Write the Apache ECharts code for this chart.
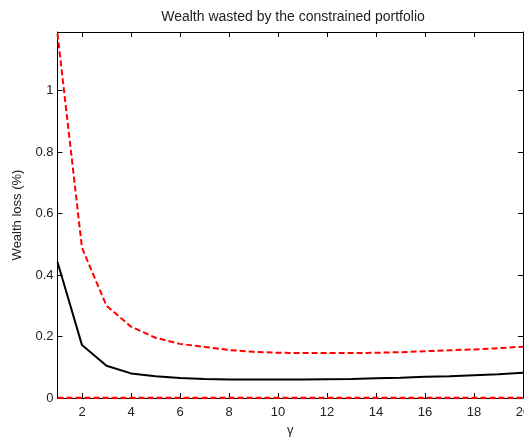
<!DOCTYPE html>
<html>
<head>
<meta charset="utf-8">
<script src="https://cdn.jsdelivr.net/npm/echarts@6/dist/echarts.min.js"></script>
<style>
  html, body { margin: 0; padding: 0; background: #fff; }
  #chart { width: 524px; height: 439px; }
</style>
</head>
<body>
<div id="chart"></div>
<script>
// Risk aversion values (gamma)
const gamma = [1,2,3,4,5,6,7,8,9,10,11,12,13,14,15,16,17,18,19,20];
// Wealth loss (%) for the constrained portfolio
const lossMain = [0.442,0.172,0.105,0.080,0.071,0.065,0.062,0.060,0.060,0.060,0.060,0.061,0.062,0.064,0.066,0.069,0.071,0.074,0.077,0.082];
const lossUpper = [1.185,0.488,0.300,0.232,0.196,0.176,0.166,0.156,0.150,0.147,0.146,0.146,0.146,0.147,0.149,0.152,0.155,0.158,0.162,0.167];
const lossLower = [0,0,0,0,0,0,0,0,0,0,0,0,0,0,0,0,0,0,0,0];
// Tick labels
const xTicks = [2,4,6,8,10,12,14,16,18,20];
const yTicks = [0,0.2,0.4,0.6,0.8,1];

const pair = (ys) => gamma.map((g, i) => [g, ys[i]]);
const font = 'Liberation Sans, Arial, sans-serif';

const baseAxis = {
  axisLine: { show: true, onZero: false, lineStyle: { color: '#000', width: 1 } },
  axisTick: { show: true, inside: true, length: 5, lineStyle: { color: '#000', width: 1 } },
  splitLine: { show: false },
  nameTextStyle: { fontFamily: font, fontSize: 13, color: '#222' }
};

const xCommon = Object.assign({}, baseAxis, { type: 'value', min: 1, max: 20 });
const yCommon = Object.assign({}, baseAxis, { type: 'value', min: 0, max: 1.19 });

const chart = echarts.init(document.getElementById('chart'), null, { renderer: 'canvas' });
chart.setOption({
  animation: false,
  backgroundColor: '#fff',
  title: {
    text: 'Wealth wasted by the constrained portfolio',
    left: 288, top: 5, textAlign: 'center',
    textStyle: { fontFamily: font, fontSize: 14, fontWeight: 'normal', color: '#222' }
  },
  grid: { left: 57.5, right: 1, top: 32, bottom: 41, containLabel: false, outerBoundsMode: 'none' },
  xAxis: [
    Object.assign({}, xCommon, {
      position: 'bottom',
      name: 'γ', nameLocation: 'middle', nameGap: 24,
      axisTick: Object.assign({}, baseAxis.axisTick, { customValues: xTicks }),
      axisLabel: { customValues: xTicks, margin: 8, fontFamily: font, fontSize: 13, color: '#222' }
    }),
    Object.assign({}, xCommon, {
      position: 'top',
      axisTick: Object.assign({}, baseAxis.axisTick, { customValues: xTicks }),
      axisLabel: { show: false }
    })
  ],
  yAxis: [
    Object.assign({}, yCommon, {
      position: 'left',
      name: 'Wealth loss (%)', nameLocation: 'middle', nameGap: 34,
      axisTick: Object.assign({}, baseAxis.axisTick, { customValues: yTicks }),
      axisLabel: { customValues: yTicks, margin: 4, fontFamily: font, fontSize: 13, color: '#222' }
    }),
    Object.assign({}, yCommon, {
      position: 'right',
      axisTick: Object.assign({}, baseAxis.axisTick, { customValues: yTicks }),
      axisLabel: { show: false }
    })
  ],
  series: [
    {
      type: 'line', data: pair(lossMain), symbol: 'none', z: 3,
      lineStyle: { color: '#000', width: 2 }
    },
    {
      type: 'line', data: pair(lossUpper), symbol: 'none', z: 4,
      lineStyle: { color: '#ff0000', width: 2, type: [6, 3] }
    },
    {
      type: 'line', data: pair(lossLower), symbol: 'none', z: 5,
      lineStyle: { color: '#ff0000', width: 2.5, type: [6, 3] }
    }
  ]
});
</script>
</body>
</html>
